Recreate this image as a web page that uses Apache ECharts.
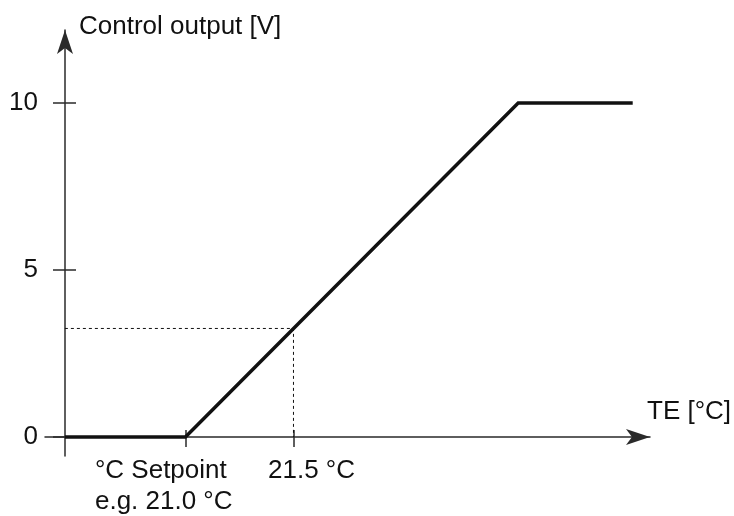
<!DOCTYPE html>
<html><head><meta charset="utf-8">
<script src="https://cdn.jsdelivr.net/npm/echarts@6/dist/echarts.min.js"></script>
<style>html,body{margin:0;padding:0;background:#fff}#c{width:734px;height:516px}</style>
</head><body><div id="c"></div>
<script>
// ---- data ----
const tempPoints = [20.442, 21.0, 22.54, 23.07];   // TE [°C]
const outputPoints = [0, 0, 10, 10];               // Control output [V]
const xOrigin = 20.442;                            // where the y axis sits
const exampleTemp = 21.5;
const exampleOutput = 3.25;
const yTickValues = [0, 5, 10];
const xTickValues = [21.0, 21.5];
const xTickLabels = ['°C Setpoint\ne.g. 21.0 °C', '21.5 °C'];
const xAxisName = 'TE [°C]';
const yAxisName = 'Control output [V]';
const xRange = [20.35, 23.15];
const yRange = [-0.57, 12.19];

// ---- style / layout ----
const FONT = 'Liberation Sans, Arial, sans-serif';
const FS = 26;
const TXT = '#111';
const AX = '#2a2a2a';
const labelDx = [-90.5, -25.5];
const labelTop = 455;

const chart = echarts.init(document.getElementById('c'), null, {renderer: 'canvas'});
const linePts = tempPoints.map((t, i) => [t, outputPoints[i]]);
const dashPts = [[xOrigin, exampleOutput], [exampleTemp, exampleOutput], [exampleTemp, 0]];

const baseX = {
  type: 'value', min: xRange[0], max: xRange[1], position: 'bottom', offset: -19,
  splitLine: {show: false}, axisLabel: {show: false}
};
const baseY = {
  type: 'value', min: yRange[0], max: yRange[1], position: 'left', offset: -20,
  splitLine: {show: false}
};

chart.setOption({
  animation: false,
  backgroundColor: '#fff',
  grid: {left: 45, right: 84, top: 30, bottom: 60, containLabel: false, outerBoundsMode: 'none'},
  xAxis: [
    Object.assign({}, baseX, {
      name: xAxisName, nameLocation: 'end', nameGap: -3, nameMoveOverlap: false,
      nameTextStyle: {fontFamily: FONT, fontSize: FS, color: TXT, align: 'left', verticalAlign: 'bottom', padding: [0, 0, 12, 0]},
      axisLine: {show: true, onZero: false, symbol: ['none', 'arrow'], symbolSize: [12, 24], lineStyle: {color: AX, width: 1.5}},
      axisTick: {show: true, customValues: xTickValues, length: 10, lineStyle: {color: AX, width: 1.5}}
    }),
    Object.assign({}, baseX, {
      axisLine: {show: false, onZero: false},
      axisTick: {show: true, inside: true, customValues: xTickValues, length: 7, lineStyle: {color: AX, width: 1.5}}
    })
  ],
  yAxis: [
    Object.assign({}, baseY, {
      name: yAxisName, nameLocation: 'end', nameGap: -10, nameMoveOverlap: false,
      nameTextStyle: {fontFamily: FONT, fontSize: FS, color: TXT, align: 'left', verticalAlign: 'bottom', padding: [0, 0, 0, 14]},
      axisLine: {show: true, onZero: false, symbol: ['none', 'arrow'], symbolSize: [12, 24], lineStyle: {color: AX, width: 1.5}},
      axisTick: {show: true, customValues: yTickValues, length: 12, lineStyle: {color: AX, width: 1.5}},
      axisLabel: {show: true, customValues: yTickValues, margin: 27, fontFamily: FONT, fontSize: FS, color: TXT}
    }),
    Object.assign({}, baseY, {
      axisLine: {show: false, onZero: false},
      axisTick: {show: true, inside: true, customValues: yTickValues, length: 11, lineStyle: {color: AX, width: 1.5}},
      axisLabel: {show: false}
    })
  ],
  series: [
    {
      type: 'line', data: dashPts, xAxisIndex: 1, yAxisIndex: 1, symbol: 'none', silent: true,
      lineStyle: {color: '#111', width: 1, type: [3, 3]}
    },
    {
      type: 'line', data: linePts, xAxisIndex: 0, yAxisIndex: 0, symbol: 'none', silent: true,
      lineStyle: {color: '#111', width: 3.5, cap: 'butt', join: 'miter'}
    }
  ]
});

const graphics = xTickValues.map((v, i) => {
  const p = chart.convertToPixel({xAxisIndex: 0, yAxisIndex: 0}, [v, 0]);
  return {
    type: 'text', x: p[0] + labelDx[i], y: labelTop, silent: true,
    style: {text: xTickLabels[i], fontFamily: FONT, fontSize: FS, fill: TXT, lineHeight: 31, align: 'left', verticalAlign: 'top'}
  };
});
chart.setOption({graphic: graphics});
</script>
</body></html>
